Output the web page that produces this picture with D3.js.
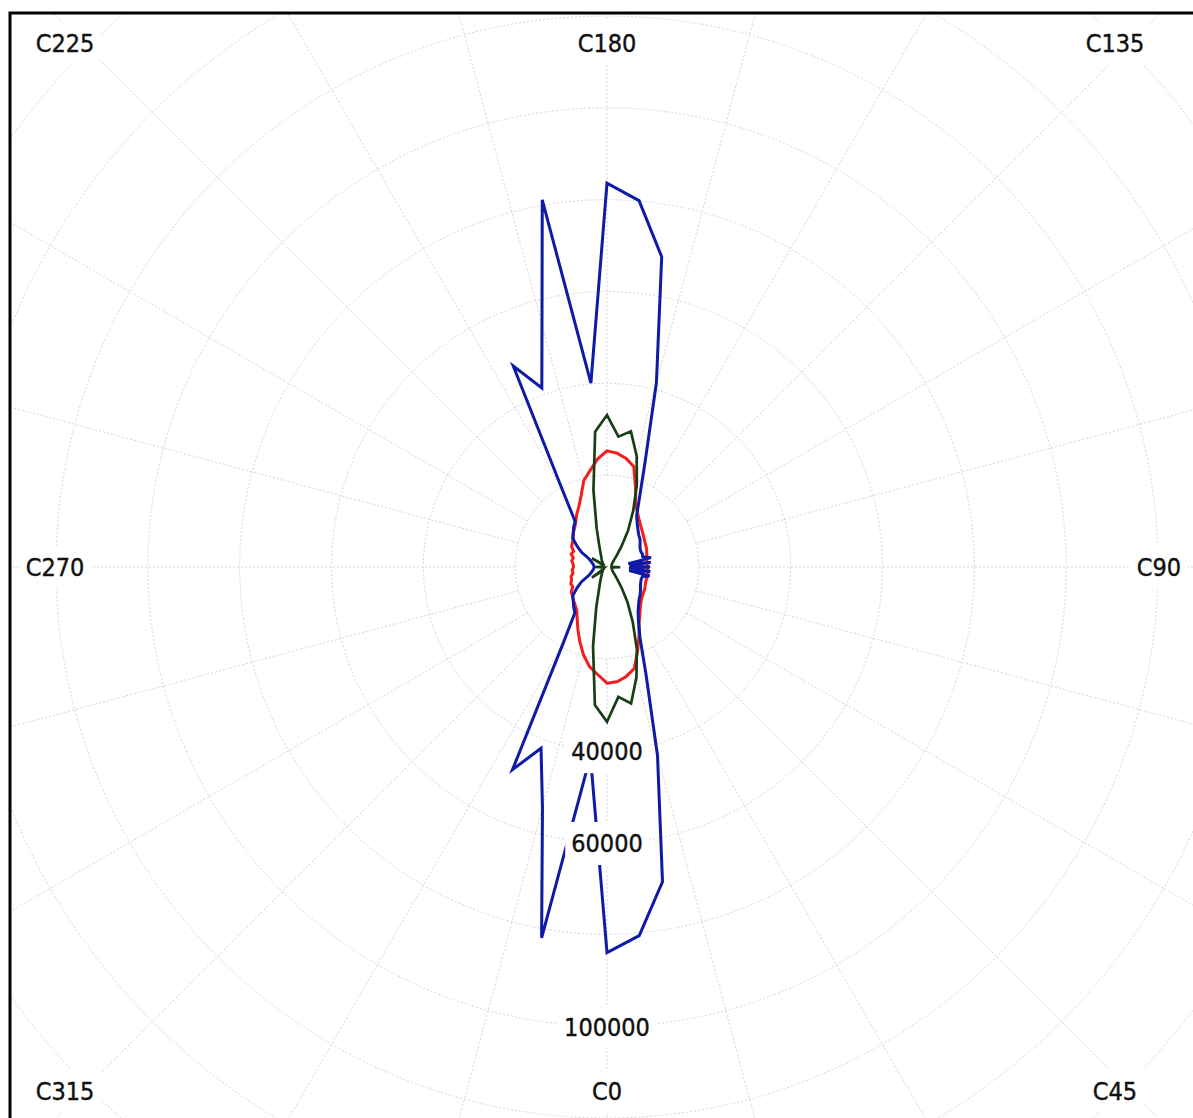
<!DOCTYPE html>
<html>
<head>
<meta charset="utf-8">
<script src="https://cdn.jsdelivr.net/npm/d3@7"></script>
<style>
  body { margin: 0; background: #fff; }
  text { font-family: "DejaVu Sans Condensed", "DejaVu Sans", sans-serif; }
</style>
</head>
<body>
<svg width="1193" height="1118"></svg>
<script>
// C-plane labels and radial tick values
const cPlanes = [0, 45, 90, 135, 180, 225, 270, 315]
const ringValues = [20000, 40000, 60000, 80000, 100000, 120000, 140000, 160000, 180000]
const tickLabels = [40000, 60000, 100000]

// series: C angle (deg) / intensity
const blueAngles = [0,5,10,15,20,25,30,35,40,45,50,55,60,65,70,75,78,81,84,87,90,93,96,99,102,106,110,115,120,125,130,135,140,145,150,155,160,165,170,175,180,185,190,195,200,205,210,215,220,225,230,235,240,245,250,260,270,280,290,295,300,305,310,315,320,325,330,335,340,345,350,355]
const blueValues = [84000,80600,69600,42500,24800,17000,13700,11800,10700,9900,9400,8900,8400,8100,7900,8000,9500,4900,9500,4800,9400,4900,9600,4700,9800,8100,8200,8100,8300,8800,9400,9800,10500,11500,12900,16800,24200,41600,68600,80100,83600,40200,81200,54700,41500,48300,19500,12100,11300,10400,9750,8000,6400,4400,3700,3000,2800,3000,3700,4400,6400,8000,9750,10400,11300,12200,18900,48700,42000,54300,82000,41400]

const redAngles = [0,5,10,15,20,25,30,35,40,45,50,55,60,65,70,75,80,85,90,95,100,105,110,115,120,125,130,135,140,145,150,155,160,165,170,175,180,185,190,195,200,205,210,215,220,225,230,235,240,245,250,255,260,265,270,275,280,285,290,295,300,305,310,315,320,325,330,335,340,345,350,355]
const redValues = [25300,25100,24200,22900,19500,16500,14000,12500,11300,10500,10000,9700,9500,9200,9000,9000,9000,8900,8800,8800,8800,9000,9200,9500,9700,10000,10400,10900,11500,12300,13400,14800,18200,22600,24000,24900,25300,23600,21300,19500,16500,14500,13200,11900,11000,10400,9600,9200,8900,8000,8300,7600,7800,7400,7300,7600,7500,8100,8200,8700,8600,9500,9800,10300,10800,11500,13000,15000,17300,19800,22000,23500]

const greenAngles = [0,5,10,15,20,25,30,35,40,45,50,60,70,80,86,89,92,100,110,120,130,135,140,145,150,155,160,165,170,175,180,185,190,195,200,205,210,217,230,236,240,244,255,262,270,278,290,300,305,310,320,325,330,335,340,345,350,355]
const greenValues = [33700,28400,30200,24800,19000,13300,9000,5600,3400,2400,1800,1300,1100,1000,1200,2900,1000,1000,1100,1200,1700,2200,3300,5500,9200,13500,19000,25000,30000,28500,33100,29600,17000,8700,4900,3300,2500,1900,1200,800,3800,900,1000,600,2600,600,1000,900,4000,1200,1700,2000,2600,3500,5000,9000,17500,30200]

const svg = d3.select('svg')
const cx = 607, cy = 567
const outer = 551

const r = d3.scaleLinear().domain([0, 120000]).range([0, outer])
// C0 points down, C90 right, C180 up
const a = d3.scaleLinear().domain([0, 360]).range([Math.PI, -Math.PI])

svg.append('rect').attr('width', 1193).attr('height', 1118).attr('fill', '#fff')

svg.append('clipPath').attr('id', 'frame')
    .append('rect').attr('x', 10).attr('y', 13).attr('width', 1200).attr('height', 1110)

const g = svg.append('g').attr('clip-path', 'url(#frame)')
const plot = g.append('g').attr('transform', `translate(${cx},${cy})`)

// grid
const gridColor = '#d2d2e2'
plot.selectAll('.ring')
    .data(ringValues)
    .enter().append('circle')
    .attr('r', d => r(d))
    .attr('fill', 'none')
    .attr('stroke', gridColor)
    .attr('stroke-width', 1)
    .attr('stroke-dasharray', '2,2')

plot.selectAll('.spoke')
    .data(d3.range(0, 360, 15))
    .enter().append('line')
    .attr('x1', d => r(20000) * Math.sin(a(d)))
    .attr('y1', d => -r(20000) * Math.cos(a(d)))
    .attr('x2', d => 900 * Math.sin(a(d)))
    .attr('y2', d => -900 * Math.cos(a(d)))
    .attr('stroke', gridColor)
    .attr('stroke-width', 1)
    .attr('stroke-dasharray', '2,2')

// series
const line = d3.lineRadial()
    .angle(d => a(d[0]))
    .radius(d => r(d[1]))
    .curve(d3.curveLinearClosed)

const series = [
    { color: '#f41c1c', w: 3, pts: d3.zip(redAngles, redValues) },
    { color: '#0d1ba6', w: 3, pts: d3.zip(blueAngles, blueValues) },
    { color: '#173f17', w: 2.7, pts: d3.zip(greenAngles, greenValues) }
]

plot.selectAll('.series')
    .data(series)
    .enter().append('path')
    .attr('d', d => line(d.pts))
    .attr('fill', 'none')
    .attr('stroke', d => d.color)
    .attr('stroke-width', d => d.w)
    .attr('stroke-linejoin', 'miter')

// labels with white boxes
const addLabel = (x, y, txt) => {
    const t = g.append('text')
        .attr('x', x).attr('y', y)
        .attr('text-anchor', 'middle')
        .attr('dominant-baseline', 'central')
        .attr('font-size', 25)
        .attr('fill', '#111')
        .attr('stroke', '#111')
        .attr('stroke-width', 0.4)
        .text(txt)
    const b = t.node().getBBox()
    g.insert('rect', () => t.node())
        .attr('x', b.x - 6).attr('y', b.y - 7)
        .attr('width', b.width + 12).attr('height', b.height + 14)
        .attr('fill', '#fff')
}

tickLabels.forEach(v => addLabel(cx, cy + r(v) + 1, v))

cPlanes.forEach(c => {
    const ang = a(c)
    const sx = Math.sin(ang), sy = -Math.cos(ang)
    const corner = Math.abs(sx) > 0.1 && Math.abs(sy) > 0.1
    const hx = corner ? (sx < 0 ? 542 : 508) : 552
    const x = cx + Math.max(-hx, Math.min(hx, 800 * sx))
    const y = cy + Math.max(-524, Math.min(524, 800 * sy))
    addLabel(x, y, 'C' + c)
})

// frame
svg.append('rect')
    .attr('x', 10).attr('y', 13)
    .attr('width', 1200).attr('height', 1110)
    .attr('fill', 'none')
    .attr('stroke', '#000')
    .attr('stroke-width', 3)
</script>
</body>
</html>
